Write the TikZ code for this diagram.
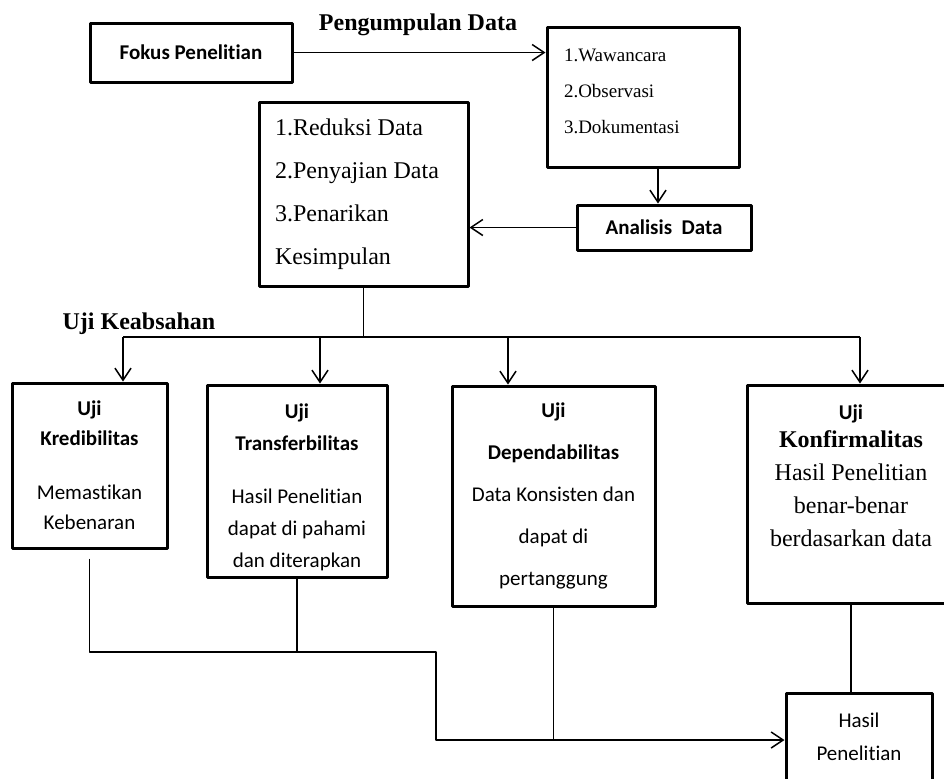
\documentclass[tikz,border=0pt]{standalone}
\usepackage{fontspec}
\setmainfont{Liberation Serif}
\newfontfamily\calfont[Ligatures=NoCommon]{Carlito}
\usetikzlibrary{arrows.meta}

\begin{document}
\begin{tikzpicture}[x=0.5pt, y=-0.5pt, line width=0.75pt, line join=round, >={Straight Barb[length=6pt,width=8pt]},
	box/.style={draw, line width=1.5pt, inner sep=0pt},
	sansbox/.style={box, align=center, font=\calfont\fontsize{10.5}{#1}\selectfont}]
	\useasboundingbox (0,0) rectangle (944,778);
	\clip (0,0) rectangle (944,778);
	\node[box, minimum width=101pt, minimum height=29.5pt, font=\calfont\bfseries\fontsize{10.5}{13}\selectfont] (fokus) at (191,52.5) {Fokus Penelitian};
	\node[font=\bfseries\fontsize{12}{14}\selectfont] (pengumpulan) at (418,24.5) {Pengumpulan Data};
	\node[box, minimum width=96pt, minimum height=70pt, text width=79pt, align=flush left, font=\fontsize{9.5}{18}\selectfont] (wawancara) at (643,97) {1.Wawancara\\ 2.Observasi\\ 3.Dokumentasi\\[-12pt] \mbox{}};
	\node[box, minimum width=104.5pt, minimum height=92pt, text width=88.5pt, align=flush left, font=\fontsize{12}{21.5}\selectfont] (reduksi) at (363.5,194) {1.Reduksi Data\\ 2.Penyajian Data\\ 3.Penarikan\\ Kesimpulan};
	\node[box, minimum width=87pt, minimum height=22.5pt, font=\calfont\bfseries\fontsize{10.5}{13}\selectfont] (analisis) at (664,227.5) {Analisis~ Data};
	\node[font=\bfseries\fontsize{12}{14}\selectfont] (keabsahan) at (139,324) {Uji Keabsahan};
	\node[sansbox=15pt, minimum width=77.5pt, minimum height=82.5pt] (kredibilitas) at (89.5,465.5) {\textbf{Uji}\\ \textbf{Kredibilitas}\\[12pt] Memastikan\\ Kebenaran};
	\node[sansbox=16pt, minimum width=90pt, minimum height=96pt] (transferbilitas) at (297,481) {\mbox{}\\[-2pt] \textbf{Uji}\\ \textbf{Transferbilitas}\\[10.5pt] Hasil Penelitian\\ dapat di pahami\\ dan diterapkan};
	\node[sansbox=21pt, minimum width=101.5pt, minimum height=110pt] (dependabilitas) at (553.5,496) {\textbf{Uji}\\ \textbf{Dependabilitas}\\ Data Konsisten dan\\ dapat di\\ pertanggung};
	\node[box, align=center, font=\fontsize{12}{16.5}\selectfont, minimum width=104pt, minimum height=109pt] (konfirmalitas) at (851,494) {{\calfont\bfseries\fontsize{10.5}{13}\selectfont Uji}\\[-2.5pt] \textbf{Konfirmalitas}\\ Hasil Penelitian\\ benar-benar\\ berdasarkan data\\[2pt] \mbox{}};
	\node[sansbox=16.5pt, minimum width=73pt, minimum height=43.5pt] (hasil) at (859,736.5) {Hasil\\ Penelitian};
	\coordinate (b1) at (123,337);
	\coordinate (b2) at (320,337);
	\coordinate (b3) at (508,337);
	\coordinate (b4) at (860,337);
	\coordinate (j1) at (436,652);
	\coordinate (j2) at (436,740);
	\draw[->] (fokus.east) -- (fokus.east -| wawancara.west);
	\draw[->] ([xshift=-3pt]analisis.north |- wawancara.south) -- ([xshift=-3pt]analisis.north);
	\draw[->] (analisis.west) -- (analisis.west -| reduksi.east);
	\draw (reduksi.south) -- (reduksi.south |- b1);
	\draw (b1) -- (b4);
	\draw[->] (b1) -- (b1 |- kredibilitas.north);
	\draw[->] (b2) -- (b2 |- transferbilitas.north);
	\draw[->] (b3) -- (b3 |- dependabilitas.north);
	\draw[->] (b4) -- (b4 |- konfirmalitas.north);
	\draw[->] ([yshift=-4.5pt]kredibilitas.south) |- (j1) -- (j2) -- (j2 -| hasil.west);
	\draw (transferbilitas.south) -- (transferbilitas.south |- j1);
	\draw (dependabilitas.south) -- (dependabilitas.south |- j2);
	\draw (konfirmalitas.south) -- (konfirmalitas.south |- hasil.north);
\end{tikzpicture}
\end{document}
